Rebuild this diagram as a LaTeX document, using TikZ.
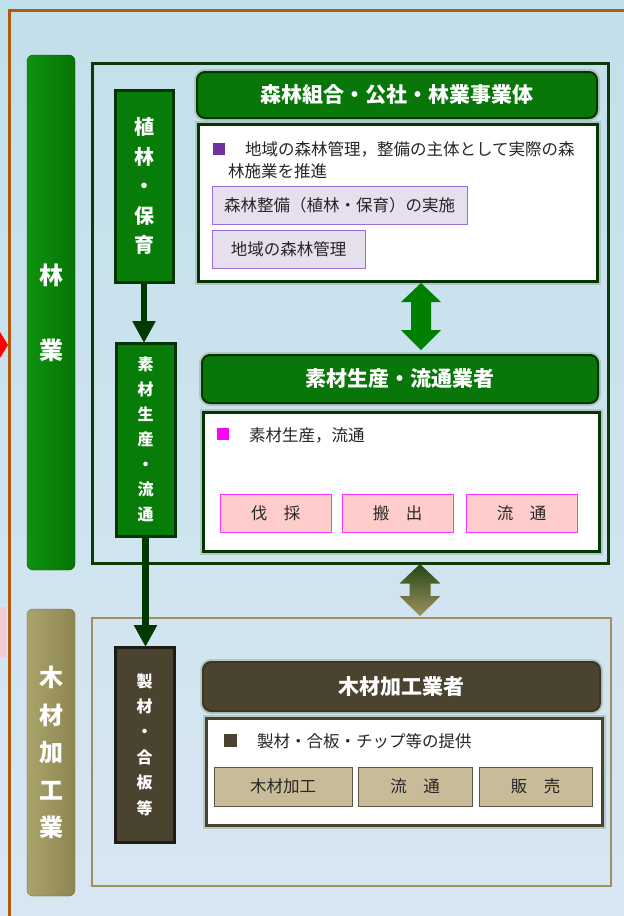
\documentclass[tikz,border=0pt]{standalone}
\usepackage{fontspec}
\setmainfont{Noto Sans CJK JP}
\usetikzlibrary{arrows.meta,calc}
\definecolor{bgtop}{HTML}{C2E0EA}
\definecolor{bgbot}{HTML}{D8E6F2}
\definecolor{rim}{HTML}{B05A10}
\definecolor{gfill}{HTML}{087C08}
\definecolor{gbarL}{HTML}{0E920E}
\definecolor{gbarR}{HTML}{067406}
\definecolor{gdark}{HTML}{053505}
\definecolor{gframe}{HTML}{0B3B0B}
\definecolor{garrow}{HTML}{003A00}
\definecolor{ofill}{HTML}{A39B62}
\definecolor{obarL}{HTML}{ABA36C}
\definecolor{obarR}{HTML}{8E8652}
\definecolor{oframe}{HTML}{A09060}
\definecolor{bfill}{HTML}{4A4330}
\definecolor{bdark}{HTML}{1C1C14}
\definecolor{tan}{HTML}{C8BC98}
\definecolor{tanline}{HTML}{5E5644}
\definecolor{lav}{HTML}{E6DFEE}
\definecolor{lavline}{HTML}{9E6CD0}
\definecolor{purp}{HTML}{7030A0}
\definecolor{pinkf}{HTML}{FFCCCC}
\definecolor{pinkl}{HTML}{FF33FF}
\definecolor{magenta2}{HTML}{FF00FF}
\definecolor{halo}{HTML}{9FB7A8}
\begin{document}
\begin{tikzpicture}[x=1pt,y=-1pt,
  every node/.style={inner sep=0pt,outer sep=0pt},
  blk/.style={rectangle,anchor=north west},
  bar/.style={blk,rounded corners=6pt,text=white,align=center,font=\fontsize{24}{75}\selectfont\bfseries},
  stepbox/.style={blk,line width=3pt,text=white,align=center},
  hdr/.style={blk,rounded corners=8pt,line width=2pt,text=white,font=\fontsize{21}{24}\selectfont\bfseries,
     preaction={draw=halo,line width=6pt,opacity=0.6}},
  card/.style={blk,fill=white,line width=3pt,preaction={draw=halo,line width=7pt,opacity=0.6}},
  item/.style={blk,line width=1pt,font=\fontsize{16.5}{20}\selectfont,text=black!85},
  body/.style={anchor=west,font=\fontsize{16.5}{20}\selectfont,text=black!85},
  arr/.style={draw=garrow,line width=6.5pt,-{Triangle[width=22pt,length=22pt]}}
]
\useasboundingbox (0,0) rectangle (624,916);
% background
\shade[top color=bgtop,bottom color=bgbot] (0,0) rectangle (624,916);
\draw[rim,line width=3pt] (9.5,916) -- (9.5,10) -- (624,10);
\fill[red] (0,332) -- (8,345) -- (0,358) -- cycle;
\fill[pink!70!bgbot] (0,607) rectangle (6,657);

% side bars
\node[bar,draw=gbarR!80!black,left color=gbarL,right color=gbarR,minimum width=48pt,minimum height=515pt] (barA) at (27,55) {林\\業};
\node[bar,draw=obarR!80!black,left color=obarL,right color=obarR,minimum width=48pt,minimum height=287pt,font=\fontsize{24}{37.5}\selectfont\bfseries] (barB) at (27,609) {木\\材\\加\\工\\業};

% frames
\node[blk,draw=gframe,line width=3pt,minimum width=516pt,minimum height=500pt] (frameG) at (92,63) {};
\node[blk,draw=oframe,line width=2.5pt,minimum width=519pt,minimum height=268pt] (frameO) at (92,618) {};

% step boxes
\node[stepbox,fill=gfill,draw=gdark,minimum width=58pt,minimum height=192pt,font=\fontsize{20}{29.5}\selectfont\bfseries] (s1) at (115,90) {植\\林\\・\\保\\育};
\node[stepbox,fill=gfill,draw=gdark,minimum width=59pt,minimum height=193pt,font=\fontsize{16}{25}\selectfont\bfseries] (s2) at (116,343) {素\\材\\生\\産\\・\\流\\通};
\node[stepbox,fill=bfill,draw=bdark,minimum width=59pt,minimum height=195pt,font=\fontsize{16}{25.4}\selectfont\bfseries] (s3) at (115,647) {製\\材\\・\\合\\板\\等};

% flow arrows
\draw[arr] (s1.south) -- (s1.south |- s2.north);
\draw[arr] (s2.south) -- (s2.south |- s3.north);

% group 1
\node[hdr,fill=gfill!95!black,draw=gdark,minimum width=400pt,minimum height=46pt] (h1) at (197,72) {森林組合・公社・林業事業体};
\node[card,draw=gdark,minimum width=399pt,minimum height=157pt] (w1) at (198,124) {};
\fill[purp] (213,143) rectangle (225,155);
\node[body] (t1a) at (245,149) {地域の森林管理，整備の主体として実際の森};
\node[body] (t1b) at (228,171) {林施業を推進};
\node[item,fill=lav,draw=lavline,minimum width=255pt,minimum height=38pt] (i11) at (212,186) {森林整備（植林・保育）の実施};
\node[item,fill=lav,draw=lavline,minimum width=153pt,minimum height=38pt] (i12) at (212,230) {地域の森林管理};

% group 2
\node[hdr,fill=gfill!95!black,draw=gdark,minimum width=396pt,minimum height=48pt] (h2) at (202,355) {素材生産・流通業者};
\node[card,draw=gdark,minimum width=396pt,minimum height=139pt] (w2) at (203,412) {};
\fill[magenta2] (217,428) rectangle (229,440);
\node[body] (t2) at (249,435) {素材生産，流通};
\node[item,fill=pinkf,draw=pinkl,minimum width=111pt,minimum height=38pt] (i21) at (220,494) {伐　採};
\node[item,fill=pinkf,draw=pinkl,minimum width=111pt,minimum height=38pt] (i22) at (342,494) {搬　出};
\node[item,fill=pinkf,draw=pinkl,minimum width=111pt,minimum height=38pt] (i23) at (466,494) {流　通};

% group 3
\node[hdr,fill=bfill,draw=bfill!80!black,minimum width=397pt,minimum height=49pt] (h3) at (203,662) {木材加工業者};
\node[card,draw=bfill,minimum width=396pt,minimum height=107pt] (w3) at (206,718) {};
\fill[bfill] (224,734) rectangle (237,747);
\node[body] (t3) at (257,741) {製材・合板・チップ等の提供};
\node[item,fill=tan,draw=tanline,minimum width=138pt,minimum height=39pt] (i31) at (214,767) {木材加工};
\node[item,fill=tan,draw=tanline,minimum width=114pt,minimum height=39pt] (i32) at (358,767) {流　通};
\node[item,fill=tan,draw=tanline,minimum width=113pt,minimum height=39pt] (i33) at (479,767) {販　売};

% double arrows between groups
\coordinate (dA) at (421,283);
\coordinate (dB) at (421,350);
\fill[green!50!black] (dA) -- ++(20,19) -- ++(-10,0) -- ++(0,28) -- ++(10,0) -- (dB) -- ++(-20,-20) -- ++(10,0) -- ++(0,-28) -- ++(-10,0) -- cycle;
\coordinate (dC) at (420,564);
\coordinate (dD) at (420,616);
\shade[top color=gdark!80!oframe,bottom color=oframe] (dC) -- ++(20.5,19.5) -- ++(-10,0) -- ++(0,12.5) -- ++(10,0) -- (dD) -- ++(-20.5,-20) -- ++(10,0) -- ++(0,-12.5) -- ++(-10,0) -- cycle;
\end{tikzpicture}
\end{document}
